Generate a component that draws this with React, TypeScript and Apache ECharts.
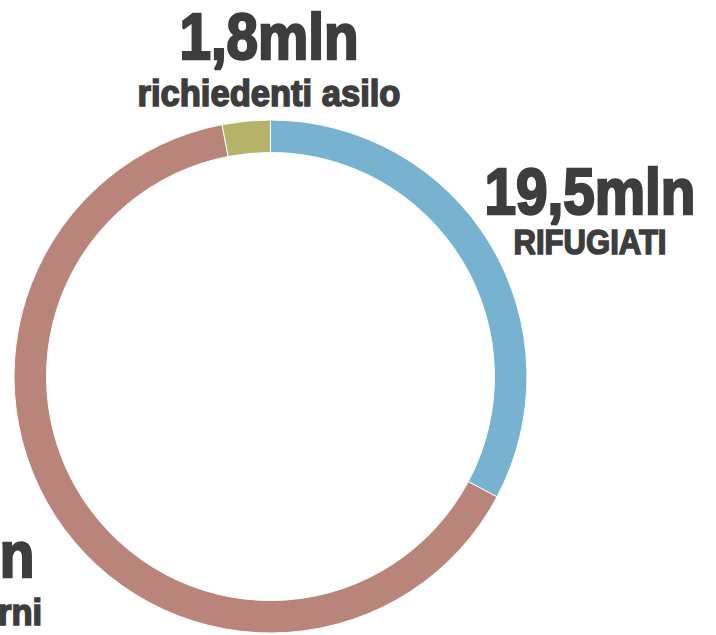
import React, { useEffect, useRef } from "react";
import * as echarts from "echarts";

const categories = ["RIFUGIATI", "sfollati interni", "richiedenti asilo"];
const values = [19.5, 38.2, 1.8];
const valueLabels = ["19,5mln", "38,2mln", "1,8mln"];
const colors = ["#77b3d1", "#b9857a", "#b5b36a"];

const FONT = '"Liberation Sans Narrow", "Arial Narrow", sans-serif';
const TEXT_COLOR = "#3d3d3d";

function measure(text: string, size: number): number {
  const c = document.createElement("canvas");
  const ctx = c.getContext("2d")!;
  ctx.font = `bold ${size}px ${FONT}`;
  return ctx.measureText(text).width;
}

// label layout: [index, centerX, bigY, smallY, bigWidth, smallWidth]
const labelLayout: [number, number, number, number, number, number][] = [
  [2, 269, 37, 93, 179, 263],
  [0, 590, 192, 242, 211, 153],
  [1, -71, 555, 612, 211, 226],
];

export default function App() {
  const ref = useRef<HTMLDivElement>(null);
  useEffect(() => {
    const chart = echarts.init(ref.current!, null, { renderer: "svg" });
    const BIG = 64;
    const SMALL = 36;
    const graphics: any[] = [];
    labelLayout.forEach(([i, cx, by, sy, bw, sw]) => {
      graphics.push({
        type: "text",
        x: cx,
        y: by,
        scaleX: bw / measure(valueLabels[i], BIG),
        style: {
          text: valueLabels[i],
          font: `bold ${BIG}px ${FONT}`,
          fill: TEXT_COLOR,
          stroke: TEXT_COLOR,
          lineWidth: 2.5,
          align: "center",
          verticalAlign: "middle",
        },
      });
      graphics.push({
        type: "text",
        x: cx,
        y: sy,
        scaleX: sw / measure(categories[i], SMALL),
        style: {
          text: categories[i],
          font: `bold ${SMALL}px ${FONT}`,
          fill: TEXT_COLOR,
          stroke: TEXT_COLOR,
          lineWidth: 1.6,
          align: "center",
          verticalAlign: "middle",
        },
      });
    });
    chart.setOption({
      animation: false,
      graphic: graphics,
      series: [
        {
          type: "pie",
          radius: [224, 256.5],
          center: [270.5, 376.5],
          startAngle: 90,
          clockwise: true,
          silent: true,
          label: { show: false },
          labelLine: { show: false },
          itemStyle: { borderColor: "#ffffff", borderWidth: 1 },
          data: categories.map((name, i) => ({
            name,
            value: values[i],
            itemStyle: { color: colors[i] },
          })),
        },
      ],
    });
    return () => chart.dispose();
  }, []);
  return (
    <div
      ref={ref}
      style={{ position: "fixed", left: 0, top: 0, width: 716, height: 635, background: "#fff" }}
    />
  );
}
